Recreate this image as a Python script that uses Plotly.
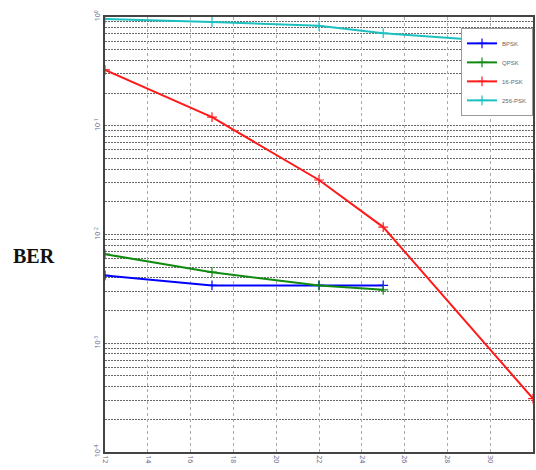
import plotly.graph_objects as go

snr = [12, 17, 22, 25, 32]
snr_short = [12, 17, 22, 25]
ber_bpsk = [0.0042, 0.0034, 0.0034, 0.0034]
ber_qpsk = [0.0066, 0.0045, 0.0034, 0.0031]
ber_16psk = [0.326, 0.12, 0.0317, 0.0117, 0.00031]
ber_256psk = [0.96, 0.90, 0.83, 0.71, 0.565]

x_ticks = [12, 14, 16, 18, 20, 22, 24, 26, 28, 30, 32]
y_ticks = [1e-4, 1e-3, 1e-2, 1e-1, 1]
y_tick_text = ["10<sup>-4</sup>", "10<sup>-3</sup>", "10<sup>-2</sup>", "10<sup>-1</sup>", "10<sup>0</sup>"]

series = [
    ("BPSK", snr_short, ber_bpsk, "#0000FF"),
    ("QPSK", snr_short, ber_qpsk, "#108A10"),
    ("16-PSK", snr, ber_16psk, "#FF1A1A"),
    ("256-PSK", snr, ber_256psk, "#1CC0C0"),
]

fig = go.Figure()
for name, xs, ys, c in series:
    fig.add_trace(go.Scatter(
        x=xs, y=ys, name=name, mode="lines+markers",
        line=dict(color=c, width=2),
        marker=dict(symbol="cross-thin", size=7, color=c, line=dict(color=c, width=1.2)),
    ))

fig.update_layout(
    width=536, height=470,
    margin=dict(l=105, r=1, t=17, b=18),
    paper_bgcolor="white", plot_bgcolor="white",
    showlegend=True,
    legend=dict(
        x=1.0, y=0.975, xanchor="right", yanchor="top",
        font=dict(size=6, color="#666666", family="Liberation Sans"),
        bgcolor="white", bordercolor="#999999", borderwidth=1,
        itemwidth=30, tracegroupgap=1,
    ),
    xaxis=dict(
        range=[12, 32], tickvals=x_ticks, ticktext=[str(v) for v in x_ticks],
        tickangle=90, tickfont=dict(size=7, color="#666688"),
        showgrid=True, gridcolor="#aaaaaa", griddash="dot", gridwidth=1,
        showline=True, linecolor="#444444", linewidth=1.5, mirror=True,
        ticks="", zeroline=False,
    ),
    yaxis=dict(
        type="log", range=[-4, 0], tickvals=y_ticks, ticktext=y_tick_text,
        tickangle=-90, tickfont=dict(size=7, color="#666688"),
        showgrid=True, gridcolor="#666666", griddash="2px,1px", gridwidth=1,
        minor=dict(dtick="D1", showgrid=True, gridcolor="#666666", griddash="2px,1px", gridwidth=1, ticks=""),
        showline=True, linecolor="#444444", linewidth=1.5, mirror=True,
        ticks="", zeroline=False,
    ),
    annotations=[dict(
        text="<b>BER</b>", xref="paper", yref="paper", x=-0.167, y=0.45,
        xanchor="center", yanchor="middle", showarrow=False,
        font=dict(family="Liberation Serif", size=20, color="#111111"),
    )],
)

fig.write_html("out.html")
